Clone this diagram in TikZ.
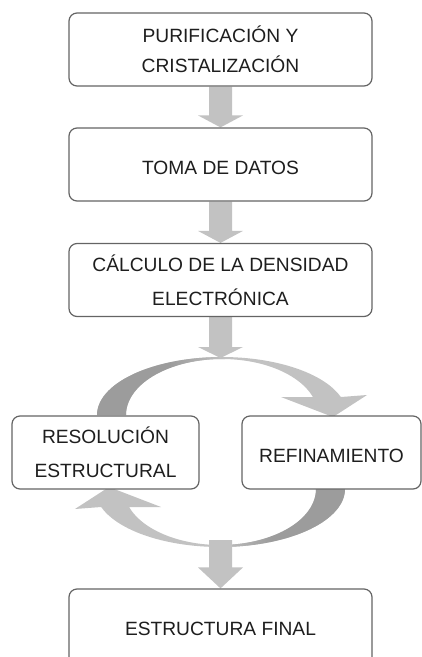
\documentclass[tikz,border=0pt]{standalone}
\usepackage{fontspec}
\setmainfont{Liberation Sans}
\usetikzlibrary{calc}
\pgfdeclarelayer{bg}
\pgfsetlayers{bg,main}
\definecolor{arrowc}{HTML}{C2C2C2}
\definecolor{darkc}{HTML}{9C9C9C}
\definecolor{boxc}{HTML}{646464}
\definecolor{textc}{HTML}{1E1E1E}
\newcommand{\blockarrow}[3]{%
  \fill[arrowc] let \p1=(#1), \p2=(#2) in
    (\x2-11.5pt,\y1) -- (\x2+11.5pt,\y1) -- (\x2+11.5pt,\y2+#3) -- (\x2+22.5pt,\y2+#3)
    -- (\x2,\y2) -- (\x2-22.5pt,\y2+#3) -- (\x2-11.5pt,\y2+#3) -- cycle;}
\tikzset{
  stagebox/.style={draw=boxc, line width=1.2pt, rounded corners=8pt, fill=white,
    text=textc, align=center, inner sep=0pt, minimum height=73pt},
  twoline/.style={font=\fontsize{19.2}{30}\selectfont},
  twolinewide/.style={font=\fontsize{19.2}{34}\selectfont},
  lowtext/.style={text height=20pt, text depth=0pt},
}
\begin{document}
\begin{tikzpicture}[x=1pt,y=-1pt]
\useasboundingbox (0,0) rectangle (422,657);
% boxes
\node[stagebox, twoline, minimum width=303pt] (n1) at (220.5,49.5) {PURIFICACIÓN Y\\CRISTALIZACIÓN};
\node[stagebox, twoline, lowtext, minimum width=303pt] (n2) at (220.5,164.5) {TOMA DE DATOS};
\node[stagebox, twolinewide, minimum width=303pt] (n3) at (220.5,280) {CÁLCULO DE LA DENSIDAD\\ELECTRÓNICA};
\node[stagebox, twolinewide, minimum width=187pt] (n4) at (105.5,452.5) {RESOLUCIÓN\\ESTRUCTURAL};
\node[stagebox, twoline, lowtext, minimum width=179pt] (n5) at (331.5,452.5) {REFINAMIENTO};
\node[stagebox, twoline, minimum width=303pt, minimum height=80pt] (n6) at (220.5,629) {ESTRUCTURA FINAL};
\coordinate (ctop) at (220.5,358);
\coordinate (cbot) at (220.5,540);
\begin{pgfonlayer}{bg}
% top circular arrow
\begin{scope}
\clip (97,415) -- plot[domain=180:18.07,samples=60] ({222+125*cos(\x)},{415-58*sin(\x)})
  -- (367,395) -- (333,417) -- (281,397)
  -- plot[domain=18.75:180,samples=60] ({222+96*cos(\x)},{415-56*sin(\x)}) -- cycle;
\fill[arrowc] (60,340) rectangle (380,430);
\fill[darkc] (60,340) rectangle (171,430);
\shade[left color=darkc,right color=arrowc] (170,340) rectangle (225,430);
\end{scope}
% bottom circular arrow
\begin{scope}
\clip (345,489) -- plot[domain=180:18.07,samples=60] ({220-125*cos(\x)},{489+58*sin(\x)})
  -- (75,509) -- (109,487) -- (161,507)
  -- plot[domain=18.75:180,samples=60] ({220-96*cos(\x)},{489+56*sin(\x)}) -- cycle;
\fill[arrowc] (60,470) rectangle (380,560);
\fill[darkc] (271,470) rectangle (380,560);
\shade[left color=arrowc,right color=darkc] (217,470) rectangle (272,560);
\end{scope}
% straight block arrows
\blockarrow{n1.south}{n2.north}{12pt}
\blockarrow{n2.south}{n3.north}{12pt}
\blockarrow{n3.south}{ctop}{11pt}
\blockarrow{cbot}{n6.north}{21pt}
\end{pgfonlayer}
\end{tikzpicture}
\end{document}
